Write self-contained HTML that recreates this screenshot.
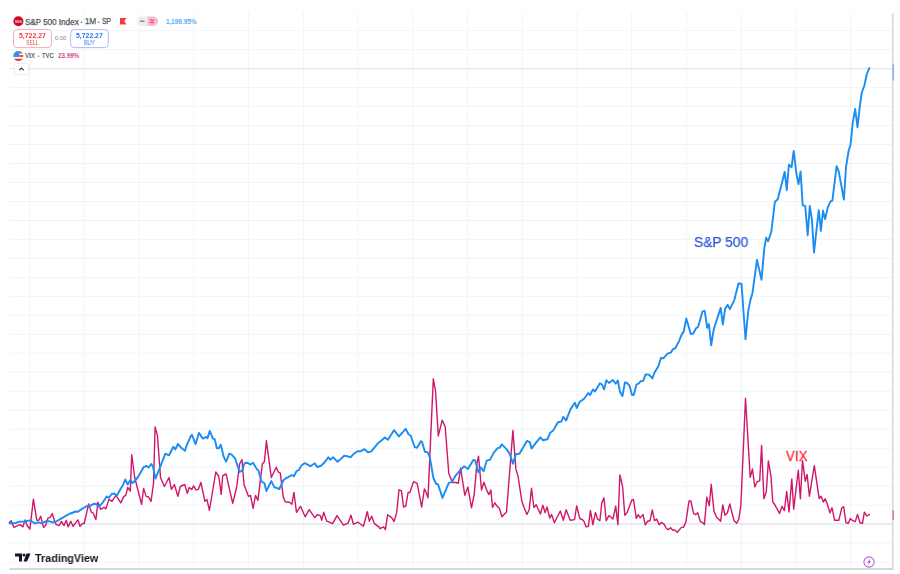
<!DOCTYPE html>
<html><head><meta charset="utf-8">
<style>
html,body{margin:0;padding:0;background:#fff;}
body{width:900px;height:574px;position:relative;overflow:hidden;font-family:"Liberation Sans",sans-serif;}
.a{position:absolute;white-space:nowrap;line-height:1;transform-origin:0 0;will-change:transform;}
svg{position:absolute;left:0;top:0;}
</style></head><body>
<svg width="900" height="574" viewBox="0 0 900 574">
<g stroke="#f0f4f8" stroke-width="1">
<line x1="29.65" y1="12.5" x2="29.65" y2="568" />
<line x1="84.38" y1="12.5" x2="84.38" y2="568" />
<line x1="139.11" y1="12.5" x2="139.11" y2="568" />
<line x1="193.84" y1="12.5" x2="193.84" y2="568" />
<line x1="248.57" y1="12.5" x2="248.57" y2="568" />
<line x1="303.30" y1="12.5" x2="303.30" y2="568" />
<line x1="358.03" y1="12.5" x2="358.03" y2="568" />
<line x1="412.76" y1="12.5" x2="412.76" y2="568" />
<line x1="467.49" y1="12.5" x2="467.49" y2="568" />
<line x1="522.22" y1="12.5" x2="522.22" y2="568" />
<line x1="576.95" y1="12.5" x2="576.95" y2="568" />
<line x1="631.68" y1="12.5" x2="631.68" y2="568" />
<line x1="686.41" y1="12.5" x2="686.41" y2="568" />
<line x1="741.14" y1="12.5" x2="741.14" y2="568" />
<line x1="795.87" y1="12.5" x2="795.87" y2="568" />
<line x1="850.60" y1="12.5" x2="850.60" y2="568" />
<line x1="9.5" y1="30.65" x2="892" y2="30.65" />
<line x1="9.5" y1="49.63" x2="892" y2="49.63" />
<line x1="9.5" y1="68.61" x2="892" y2="68.61" />
<line x1="9.5" y1="87.59" x2="892" y2="87.59" />
<line x1="9.5" y1="106.57" x2="892" y2="106.57" />
<line x1="9.5" y1="125.54" x2="892" y2="125.54" />
<line x1="9.5" y1="144.52" x2="892" y2="144.52" />
<line x1="9.5" y1="163.50" x2="892" y2="163.50" />
<line x1="9.5" y1="182.48" x2="892" y2="182.48" />
<line x1="9.5" y1="201.46" x2="892" y2="201.46" />
<line x1="9.5" y1="220.44" x2="892" y2="220.44" />
<line x1="9.5" y1="239.42" x2="892" y2="239.42" />
<line x1="9.5" y1="258.40" x2="892" y2="258.40" />
<line x1="9.5" y1="277.38" x2="892" y2="277.38" />
<line x1="9.5" y1="296.36" x2="892" y2="296.36" />
<line x1="9.5" y1="315.33" x2="892" y2="315.33" />
<line x1="9.5" y1="334.31" x2="892" y2="334.31" />
<line x1="9.5" y1="353.29" x2="892" y2="353.29" />
<line x1="9.5" y1="372.27" x2="892" y2="372.27" />
<line x1="9.5" y1="391.25" x2="892" y2="391.25" />
<line x1="9.5" y1="410.23" x2="892" y2="410.23" />
<line x1="9.5" y1="429.21" x2="892" y2="429.21" />
<line x1="9.5" y1="448.19" x2="892" y2="448.19" />
<line x1="9.5" y1="467.17" x2="892" y2="467.17" />
<line x1="9.5" y1="486.15" x2="892" y2="486.15" />
<line x1="9.5" y1="505.12" x2="892" y2="505.12" />
<line x1="9.5" y1="543.08" x2="892" y2="543.08" />
<line x1="9.5" y1="562.06" x2="892" y2="562.06" />
</g>
<line x1="9.5" y1="524.1" x2="892" y2="524.1" stroke="#e3e5ea" stroke-width="1.5"/>
<line x1="9.5" y1="68.6" x2="892" y2="68.6" stroke="#dbe8f8" stroke-width="1.2"/>
<polyline fill="none" stroke="#d0166a" stroke-width="1.4" stroke-linejoin="round" stroke-linecap="round" points="9.5,522.4 11.1,520.7 13.9,527.4 17.8,525.7 20.1,524.6 22.9,526.9 25.1,519.9 27.3,525.7 29.9,529.1 33.4,499.2 36.8,520.2 38.5,520.7 40.7,516.3 43.5,527.4 45.7,525.2 47.9,518.2 50.2,517.4 52.2,513.5 54.6,521.3 56.3,524.6 59.1,525.7 61.3,521.5 64.1,525.5 66.3,520.2 68.2,526.9 70.8,521.3 73,526.3 78,519.9 80,526.3 82.5,523.5 84.2,523.5 88.6,504 91.4,512.4 93.1,512.9 95.9,519.6 97.9,502.3 100.6,509.3 104,507.3 105.9,508.9 108.9,499.4 111.9,501.3 115.8,495.4 120.8,502.9 123.8,496.4 125.8,495.4 127.7,487.5 130.3,491 131.7,454.7 134.7,477.5 141.6,504.3 143.6,488.5 146.2,496.4 148.6,497 151,501.3 153.5,483.5 155.1,426.9 157.5,435.9 160.5,477.5 164.4,486.5 169,477.5 171.4,489.4 174.4,484.5 177.9,496.4 180.3,486.5 184.7,484.5 187.3,493.4 189.2,487.5 191.8,489.4 193.6,485.9 196,489.8 198.3,489.4 200.9,482.5 204.9,501.3 206.9,499.4 209.4,510.3 215.8,472 218.8,476.5 221.2,494.4 222.7,475.6 226.1,474 232.7,503.3 236.6,487.5 239.6,464 242,459.7 244,484.5 248.5,496.4 250.5,495.4 253.1,508.3 255.5,495.4 257.9,500.4 262.4,463.7 264.4,461.7 266.4,440.8 271.3,477.5 276.3,467.2 278.3,472 280.3,473.2 283.3,497.4 285.2,501.7 289.4,502.3 291.9,504.3 293.9,492.4 296.5,512.3 300.5,506.3 305.2,516.8 309.2,509.7 314.8,517.6 317.1,514.8 320.3,515.6 321.7,520.2 323.7,512.3 326.7,521.2 332.6,523.6 337,515.6 343.5,525.2 348.1,523.2 350.9,515.2 353.5,524.2 358,522.2 363.4,526.2 367.3,511.7 369.3,521.2 371.7,516.2 374.3,523.6 379.2,527.1 380,528.7 383.6,526.9 385.4,529.6 387.6,514.8 391.8,517.9 394.1,521.5 396.7,512.4 399,489.8 401.4,490.7 403.6,507 405.7,506.1 408.1,492.5 409.9,492.5 413.5,481.6 417.1,483.4 421.7,507 424.4,488.9 426.2,492.5 428,497.9 433.3,378.8 435.5,390.7 438.3,435.9 442.2,420.2 445.2,426.7 448.8,473.5 452.5,482.5 456.1,482.5 458.3,483.4 460.6,468 464.8,495.2 467.9,487.1 471.5,507.9 474.2,494.3 476.9,463.5 478.5,456.1 481.5,490 483.9,482.2 487.1,491.1 489,494.6 490.9,490 492.5,507.5 494.9,502.8 497.2,506.3 499.5,508.6 501.9,516.8 506.5,512.1 512.9,430.4 515.9,468.9 518.2,477.1 521.7,500.5 524.1,507.5 526.9,514.5 529.2,509.8 531.5,488.3 533.9,507.5 536.2,504.7 540.4,514 542.8,505.1 545.1,512.6 547,507 549.8,518 551.6,514.5 554.4,522.7 560.3,511 563.3,520.3 566.1,509.8 570.3,520.3 574.5,519.6 576.7,505.9 579.8,518.5 582.3,519.6 583.9,521.3 586.2,526.9 588.4,526.3 590.4,510.4 592.9,524.8 595.4,512.4 597.6,519.1 599.9,520.7 601.8,502.9 604,497.9 606.2,520.7 609,515.5 612.9,519.1 615.7,506.2 617.9,524.6 619.9,475 622.6,486.7 624.8,515.2 626.9,512.9 631.9,499.9 633.5,499.5 636.3,518.5 638.2,514.6 640.2,517.9 643,514.6 645.3,524.8 647.5,521.3 650,520.7 652.3,509.9 654.5,520.7 656.7,519.1 659.2,524.8 661.4,522.4 664.2,524.4 666.4,528.5 668.1,529.6 670.6,527.7 672.7,530.2 674.7,529.9 677.3,532.3 681.4,527.4 683.4,527.4 685.9,521.9 689,501 690.8,501 693.6,513.5 695.6,514.6 697.7,512.8 700.5,521.9 702.6,522.5 704.4,524.6 706.8,497.1 709.3,505.8 711.2,484.2 714,511.4 716.5,517 720.7,521.2 722.8,504.9 724.9,515.2 727.4,512.8 729.8,504 734,520.5 736.7,523.2 738.8,519.1 740.9,505.1 745.5,398.3 750.2,477.3 752.5,468.9 754.8,487 757.2,481.7 759.7,480.8 761.6,445.5 763.9,498.7 766.3,491.8 768.4,460.9 770.9,475.8 772.8,502.2 774.6,504.3 779.5,513.4 782,506.4 784.4,510.6 786.7,491.5 789,512 791.8,479 793.7,509.2 798.3,470.2 800.4,498.7 802.5,460.4 805.3,481.3 807.1,474.4 809.4,496.2 814.3,465.6 819.2,498.7 821.1,496.2 823.3,502.1 825.2,498.8 827.5,504.5 829.9,512.9 832,507.8 834.6,520.3 838.8,520.3 841.8,507.8 843.7,506.8 845.9,522.4 848.2,523.5 850.3,518.6 852.8,520.7 855.3,521.6 857.5,514.4 860,522.8 862.4,523.3 864.4,512.2 866.6,515.8 869.4,514.6"/>
<polyline fill="none" stroke="#1a8cf2" stroke-width="1.9" stroke-linejoin="round" stroke-linecap="round" points="9.5,523.3 15.6,523.1 18.4,521.8 24,521.5 30.1,520.4 34.6,523.3 38.5,522.4 41.8,523.3 46.3,521.1 49.6,521.3 53.5,522.6 56.9,521.1 62.4,517.9 69.1,514 75.8,511.5 78,511.8 82.5,508.5 87,506.2 90.3,505.7 94.2,503.7 96.4,504 98.1,506.2 99,506.7 102.9,502.3 106.9,496.4 108.9,497.8 111.9,493.8 114.8,493.8 116.8,495.8 120.8,488.5 122.8,485.5 125.2,479.5 127.7,484.5 130.3,480.1 132.7,483.1 137.7,477.5 143.6,467.2 146.6,466 148.6,467.6 151.2,464 152.9,466.6 155.5,478.5 159.5,468.6 165.4,453.7 169,455.3 173.4,446.8 175.4,449.4 177.9,443.8 181.3,447.8 184.9,450.8 187.3,443.8 191.2,435.5 192,434.9 195.6,444.2 198.9,432.9 202.9,438.8 205.9,436.9 207.5,438.3 209.8,430.9 212.8,438.3 214.8,439.4 216.8,448.2 218.8,448.2 220.8,444.8 223.7,456.7 226.1,461.7 229.3,453.7 231.7,454.7 235.2,458.7 239.6,472 242,470.6 244.6,463.3 247.5,462.7 250.5,464.6 253.1,462.7 256.5,468.6 258.5,470.6 261.4,481.5 264.4,483.1 266.4,491 271.3,481.1 274.3,487.1 279.3,489 283.3,480.5 285,478.9 291.9,475 293.9,476.2 296.5,471.2 298.9,470 301.3,465.6 304.8,463.1 310.4,466.2 314.8,463.3 317.1,467 320.7,466 323.7,463.3 328.3,457.3 330.2,459.7 333,457.3 337.6,461.7 340.6,459.1 344.1,455.7 347.5,456.3 350.5,457.3 353.5,454.1 357.4,451.3 360.4,451.3 364.4,449.2 367.9,452.3 371.3,451.3 378.3,442.8 380,441.8 384.9,437.5 387.9,439.8 394,430.2 398.9,436.4 402.6,432.5 405.6,428.8 408.5,434.2 410.6,435.5 414.8,447.2 417.1,447.8 420.8,441.2 422,441.8 424.9,451.7 427.5,452.1 429.8,457.2 433.4,478 436.2,484 438,484.3 442.5,497.9 448.8,482.9 451.6,482.2 455.2,476.2 459.7,470.8 464.2,466.2 467.9,469 473.3,459.9 475.1,460.4 478.5,472.4 480.8,467.3 483.6,471.3 486.7,460.7 490.2,459.6 493.7,452.6 497.9,447.9 499.5,447.9 501.9,444.4 506.5,449.1 509.6,453.7 512.9,463.6 515.9,454.2 519.4,453.7 526.9,440.9 529.9,442.1 531.5,448.6 535.7,443.2 540.4,437.4 542.8,440.2 547.4,439.3 550.2,432.7 553.3,430.4 557.9,422.2 561.4,421.5 563.3,416.8 566.1,420.6 570.4,409.4 574.9,402.8 576.7,408 579.8,401.6 582.8,399.8 585.2,397.3 588.3,393 590.1,395.1 592.9,389.4 595,391.5 599.9,383.3 602,384.5 604.1,389.4 606.3,380.2 609,382.9 612.9,380 615.7,383.7 617.8,380.5 620,391.8 622.4,396.1 624.9,382.4 626.7,382.7 629.5,385.7 632,394.9 633.7,395.1 636.5,384.5 638.9,383.3 640.7,381.2 643.2,380.9 645.6,374.4 649.3,374.8 652.3,378.4 654.8,372 658.4,366.2 660.9,358 663.3,358.3 667.6,353.7 671.1,352.3 672.8,349.2 675.1,348.5 678.9,341.5 681.6,334.6 683.8,331.4 686.3,318.4 690.8,334 693.2,333.5 696,328.3 698.1,327.1 702.5,311.4 704.7,310.9 707.2,327.9 708.9,324.1 711.2,345.4 713.8,328.8 717.3,318.4 720.7,307.9 722.8,324.5 725.1,308.8 727.7,304.9 729.8,309.1 734.3,300.1 738.5,283.5 741.5,283.8 745.5,339.3 748.3,310.5 750.4,300.1 752.4,293.5 757,260 761.5,279.8 764.2,249.2 766.1,237.8 768.1,241.3 771.3,232 774.9,201.7 777.6,199.6 781.2,186 784.7,171.8 786.8,190.2 788.9,164.7 791.6,167.2 793.7,150.9 796.4,173.5 798.5,184.4 800.6,171.4 802.7,205.3 805.2,205.9 807.7,235.2 809.8,205.9 811.9,219.5 814,252.6 816.7,227.9 818.8,210.1 820.9,231 823,210.7 825.1,219.1 827.8,207.4 830.3,201.7 832.4,200.7 836.6,166.2 838.7,171.4 843.9,199.6 846,167.2 848.7,150.5 850.5,144.7 851.7,133.4 852.8,122.1 855.2,109 857.5,127.3 859.7,107.3 861.8,92.5 864.4,85.5 866.7,74.5 869.3,68.1"/>
<line x1="9.5" y1="569" x2="893.5" y2="569" stroke="#d5d7dd" stroke-width="2"/>
<line x1="892.8" y1="13" x2="892.8" y2="569" stroke="#d5d7dd" stroke-width="1.5"/>
<line x1="893.2" y1="63.8" x2="893.2" y2="80.6" stroke="#8db6ea" stroke-width="1.6"/>
<line x1="893.2" y1="510.2" x2="893.2" y2="519.9" stroke="#d77ca2" stroke-width="1.5"/>
<circle cx="869" cy="562" r="5.1" fill="#fff" stroke="#b966da" stroke-width="1.1"/>
<path d="M870.6 558.8 L867.2 562.5 L869.1 562.5 L867.6 565.3 L871.1 561.5 L869.2 561.5 Z" fill="#9d3fc6"/>
<!-- legend icons -->
<circle cx="18.4" cy="21.3" r="5" fill="#cc0a25"/>
<text x="18.5" y="22.75" font-size="3.7" font-weight="bold" fill="#f5d5da" text-anchor="middle" font-family="Liberation Sans" transform="translate(18.5 0) scale(1.12 1) translate(-18.5 0)">500</text>
<path d="M120 18 L126.5 18 L124.3 21.25 L126.5 24.5 L120 24.5 Z" fill="#f7383f"/>
<rect x="137" y="16.5" width="21" height="9.5" rx="4.75" fill="#eceef2"/>
<path d="M147.5 16.5 L153.25 16.5 A4.75 4.75 0 0 1 153.25 26 L147.5 26 Z" fill="#f6bcd0"/>
<line x1="140" y1="21.2" x2="144.5" y2="21.2" stroke="#787b86" stroke-width="1.3"/>
<path d="M150 20.1 Q151 19.6 152 20.1 T154 20.1 M150 22.6 Q151 22.1 152 22.6 T154 22.6" fill="none" stroke="#d8306e" stroke-width="1"/>
<rect x="13.5" y="29.6" width="38" height="18" rx="3.5" fill="#fff" stroke="#f9adb3" stroke-width="1"/>
<rect x="70.7" y="29.6" width="37.6" height="18" rx="3.5" fill="#fff" stroke="#a9bff8" stroke-width="1"/>
<g>
<clipPath id="fc"><circle cx="18.3" cy="56.1" r="5"/></clipPath>
<g clip-path="url(#fc)">
<rect x="13" y="50" width="11" height="12" fill="#fff"/>
<rect x="19.4" y="51" width="5" height="2.5" fill="#ea3a3f"/>
<rect x="19.4" y="55.1" width="5" height="1.8" fill="#ea3a3f"/>
<rect x="13" y="58.7" width="11" height="3" fill="#ea3a3f"/>
<rect x="13" y="50" width="6.4" height="7" fill="#3590ea"/>
</g>
</g>
<rect x="14.5" y="63.5" width="14" height="11" rx="2" fill="#fff" stroke="#e6e8ee" stroke-width="0.8"/>
<path d="M19.3 70.2 L21.5 68 L23.7 70.2" fill="none" stroke="#30333b" stroke-width="1.1"/>
<rect x="80.8" y="21.6" width="1.3" height="1.3" fill="#5d606a"/>
<rect x="98" y="21.6" width="1.3" height="1.3" fill="#5d606a"/>
<rect x="37.9" y="55.6" width="1.2" height="1.2" fill="#5d606a"/>
<!-- TV logo -->
<path d="M15 553.5 H22 V561.5 H19 V556.5 H15 Z" fill="#131722"/>
<circle cx="24" cy="555" r="1.5" fill="#131722"/>
<path d="M26.5 553.5 H30.5 L27 561.5 H23.5 Z" fill="#131722"/>
</svg>
<div class="a" style="left:25.0px;top:17.5px;font-size:9px;transform:scaleX(0.897);color:#4a4d57;-webkit-text-stroke:0.25px #4a4d57;">S&amp;P 500 Index</div>
<div class="a" style="left:85.16px;top:17.4px;font-size:9px;transform:scaleX(0.885);color:#4a4d57;-webkit-text-stroke:0.25px #4a4d57;">1M</div>
<div class="a" style="left:101.57px;top:17.45px;font-size:9px;transform:scaleX(0.75);color:#4a4d57;-webkit-text-stroke:0.25px #4a4d57;">SP</div>
<div class="a" style="left:166.31px;top:17.65px;font-size:7px;font-weight:bold;transform:scaleX(0.92);color:#4fa8f3;">1,199.95%</div>
<div class="a" style="left:18.99px;top:32.59px;font-size:6.76px;font-weight:bold;transform:scaleX(1.022);color:#f23a48;">5,722.27</div>
<div class="a" style="left:25.84px;top:39.86px;font-size:6.62px;transform:scaleX(0.781);color:#f04a55;">SELL</div>
<div class="a" style="left:75.79px;top:33.16px;font-size:6.62px;font-weight:bold;transform:scaleX(1.04);color:#2f6df0;">5,722.27</div>
<div class="a" style="left:83.9px;top:40.23px;font-size:6.38px;transform:scaleX(0.836);color:#3f76ee;">BUY</div>
<div class="a" style="left:54.97px;top:35.37px;font-size:6.2px;transform:scaleX(0.932);color:#7a7d86;">0.00</div>
<div class="a" style="left:25.04px;top:52.15px;font-size:7.35px;transform:scaleX(0.848);color:#4a4d57;-webkit-text-stroke:0.2px #4a4d57;">VIX</div>
<div class="a" style="left:41.68px;top:52.2px;font-size:7.35px;transform:scaleX(0.80);color:#4a4d57;-webkit-text-stroke:0.2px #4a4d57;">TVC</div>
<div class="a" style="left:57.71px;top:52.14px;font-size:7.71px;font-weight:bold;transform:scaleX(0.817);color:#cc3d86;">23.99%</div>
<div class="a" style="left:694.31px;top:234.65px;font-size:14.51px;transform:scaleX(0.951);color:#3359d6;-webkit-text-stroke:0.25px #3359d6;">S&amp;P 500</div>
<div class="a" style="left:786.3px;top:448.73px;font-size:14.2px;letter-spacing:0.35px;transform:scaleX(0.914);color:#ff2a33;-webkit-text-stroke:0.3px #ff2a33;">VIX</div>
<div class="a" style="left:35.39px;top:552.68px;font-size:10.96px;font-weight:bold;transform:scaleX(0.985);color:#131722;">TradingView</div>
</body></html>
